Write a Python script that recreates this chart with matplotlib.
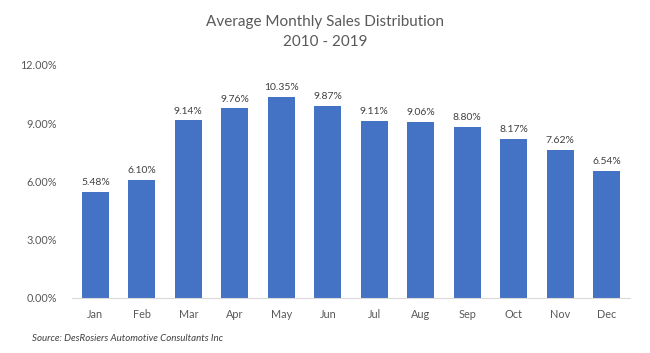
import matplotlib.pyplot as plt
from matplotlib.ticker import FuncFormatter

months = ["Jan", "Feb", "Mar", "Apr", "May", "Jun",
          "Jul", "Aug", "Sep", "Oct", "Nov", "Dec"]
share = [5.48, 6.10, 9.14, 9.76, 10.35, 9.87,
         9.11, 9.06, 8.80, 8.17, 7.62, 6.54]
yticks = [0, 3, 6, 9, 12]

plt.rcParams['font.family'] = ['Lato', 'DejaVu Sans']
grey = '#595959'

fig = plt.figure(figsize=(6.5, 3.53), dpi=100)
ax = fig.add_axes([0.111, 0.156, 0.858, 0.66])

bars = ax.bar(months, share, width=0.58, color='#4472C4')
for b, v in zip(bars, share):
    ax.text(b.get_x() + b.get_width() / 2, v + 0.25, f"{v:.2f}%",
            ha='center', va='bottom', fontsize=7.5, color='#404040')

ax.set_ylim(0, 12)
ax.set_xlim(-0.5, 11.5)
ax.set_yticks(yticks)
ax.yaxis.set_major_formatter(FuncFormatter(lambda y, _: f"{y:.2f}%"))
ax.tick_params(axis='both', length=0, labelsize=7.8, labelcolor=grey)
ax.tick_params(axis='x', pad=8)
ax.tick_params(axis='y', pad=11)
for s in ['top', 'right', 'left']:
    ax.spines[s].set_visible(False)
ax.spines['bottom'].set_color('#d9d9d9')

fig.text(0.5, 0.91, "Average Monthly Sales Distribution\n2010 - 2019",
         ha='center', va='center', fontsize=11, color=grey, linespacing=1.5)
fig.text(0.05, 0.042, "Source: DesRosiers Automotive Consultants Inc",
         ha='left', va='center', fontsize=7, style='italic', color='#404040')

fig.savefig("out.png", dpi=100)
